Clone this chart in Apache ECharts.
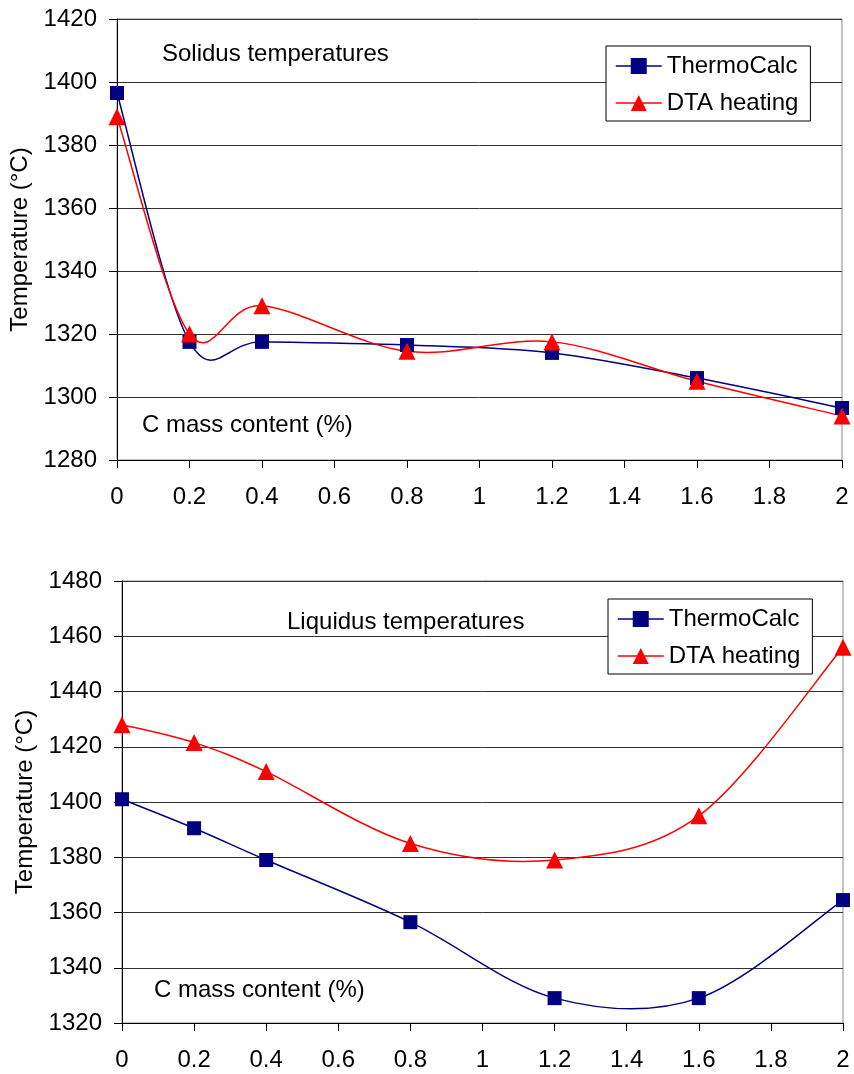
<!DOCTYPE html>
<html>
<head>
<meta charset="utf-8">
<script src="https://cdn.jsdelivr.net/npm/echarts@6/dist/echarts.min.js"></script>
<style>
    body { margin: 0; background: #fff; }
    #chart { width: 854px; height: 1074px; }
</style>
</head>
<body>
<div id="chart"></div>
<script>
    // C mass content (%) of the samples
    var cMass = [0, 0.2, 0.4, 0.8, 1.2, 1.6, 2.0];

    // solidus temperatures, °C
    var solidusThermoCalc = [1396.5, 1317.5, 1317.5, 1316.5, 1314, 1306, 1296.5];
    var solidusDTA = [1389, 1320, 1329, 1314.5, 1317.5, 1305, 1294];

    // liquidus temperatures, °C
    var liquidusThermoCalc = [1401, 1390.5, 1379, 1356.5, 1329, 1329, 1364.5];
    var liquidusDTA = [1428, 1421.5, 1411, 1385, 1379, 1395, 1456];

    var seriesNames = ['ThermoCalc', 'DTA heating'];
    var seriesColors = ['#000080', '#ff0000'];

    function pairs(xs, ys) {
        return xs.map(function (x, i) { return [x, ys[i]]; });
    }

    var font = 'Liberation Sans, Arial, sans-serif';
    var fontSize = 24;

    function xAxis(gridIndex) {
        return {
            type: 'value', gridIndex: gridIndex,
            min: 0, max: 2, interval: 0.2,
            axisLine: { lineStyle: { color: '#000', width: 1 } },
            axisTick: { show: true, length: 8, lineStyle: { color: '#000' } },
            axisLabel: { color: '#000', fontSize: fontSize, fontFamily: font, margin: 25 },
            splitLine: { show: false }
        };
    }

    function yAxis(gridIndex, min, max) {
        return {
            type: 'value', gridIndex: gridIndex,
            min: min, max: max, interval: 20,
            name: 'Temperature (°C)', nameLocation: 'middle', nameRotate: 90, nameGap: 78,
            nameTextStyle: { color: '#000', fontSize: fontSize, fontFamily: font },
            axisLine: { show: true, lineStyle: { color: '#000', width: 1 } },
            axisTick: { show: true, length: 8, lineStyle: { color: '#000' } },
            axisLabel: { color: '#000', fontSize: fontSize, fontFamily: font, margin: 20,
                formatter: function (v) { return String(v); } },
            splitLine: { show: true, lineStyle: { color: '#333', width: 1 } }
        };
    }

    // markers (and legend entry)
    function marks(k, idx, xs, ys, symbol) {
        return {
            name: seriesNames[k], type: 'line', xAxisIndex: idx, yAxisIndex: idx,
            data: pairs(xs, ys),
            symbol: symbol, symbolSize: symbol === 'triangle' ? 17 : 14,
            lineStyle: { color: seriesColors[k], width: 1.5, opacity: 0 },
            itemStyle: { color: seriesColors[k] },
            z: 4 + k
        };
    }

    // smoothed line like the spreadsheet (cardinal spline through the points)
    function curve(k, idx, xs, ys) {
        return {
            name: seriesNames[k], type: 'custom', xAxisIndex: idx, yAxisIndex: idx,
            data: pairs(xs, ys),
            z: 2 + k,
            renderItem: function (params, api) {
                if (params.dataIndex !== 0) return;
                var p = xs.map(function (x, i) { return api.coord([x, ys[i]]); });
                var d = 'M' + p[0][0] + ' ' + p[0][1];
                for (var i = 0; i < p.length - 1; i++) {
                    var a = p[i > 0 ? i - 1 : i], b = p[i], c = p[i + 1], e = p[i + 2 < p.length ? i + 2 : i + 1];
                    var c1x = b[0] + (c[0] - a[0]) / 6, c1y = b[1] + (c[1] - a[1]) / 6;
                    var c2x = c[0] - (e[0] - b[0]) / 6, c2y = c[1] - (e[1] - b[1]) / 6;
                    d += ' C' + c1x + ' ' + c1y + ' ' + c2x + ' ' + c2y + ' ' + c[0] + ' ' + c[1];
                }
                return {
                    type: 'path',
                    shape: { pathData: d },
                    style: { stroke: seriesColors[k], fill: 'none', lineWidth: 1.5 }
                };
            }
        };
    }

    function legend(left, top) {
        return {
            data: seriesNames.map(function (n, k) {
                return { name: n, lineStyle: { color: seriesColors[k], width: 1.5, opacity: 1 } };
            }),
            orient: 'vertical', left: left, top: top,
            itemWidth: 46, itemHeight: 20, itemGap: 13,
            padding: [8, 12, 6, 9],
            borderColor: '#000', borderWidth: 1, backgroundColor: '#fff',
            textStyle: { color: '#000', fontSize: fontSize, fontFamily: font }
        };
    }

    function note(text, x, y) {
        return {
            type: 'text', x: x, y: y,
            style: { text: text, fill: '#000', font: fontSize + 'px ' + font, textVerticalAlign: 'middle' }
        };
    }

    var myChart = echarts.init(document.getElementById('chart'));
    var option = {
        animation: false,
        grid: [
            { left: 117, top: 19, width: 725, height: 441, show: true, borderColor: '#888', borderWidth: 1 },
            { left: 122, top: 581, width: 721, height: 442, show: true, borderColor: '#888', borderWidth: 1 }
        ],
        xAxis: [xAxis(0), xAxis(1)],
        yAxis: [yAxis(0, 1280, 1420), yAxis(1, 1320, 1480)],
        legend: [legend(606, 46), legend(608, 599)],
        series: [
            marks(0, 0, cMass, solidusThermoCalc, 'rect'),
            marks(1, 0, cMass, solidusDTA, 'triangle'),
            marks(0, 1, cMass, liquidusThermoCalc, 'rect'),
            marks(1, 1, cMass, liquidusDTA, 'triangle'),
            curve(0, 0, cMass, solidusThermoCalc),
            curve(1, 0, cMass, solidusDTA),
            curve(0, 1, cMass, liquidusThermoCalc),
            curve(1, 1, cMass, liquidusDTA)
        ],
        graphic: [
            note('Solidus temperatures', 162, 54),
            note('C mass content (%)', 142, 425),
            note('Liquidus temperatures', 287, 622),
            note('C mass content (%)', 154, 990)
        ]
    };
    option && myChart.setOption(option);
</script>
</body>
</html>
